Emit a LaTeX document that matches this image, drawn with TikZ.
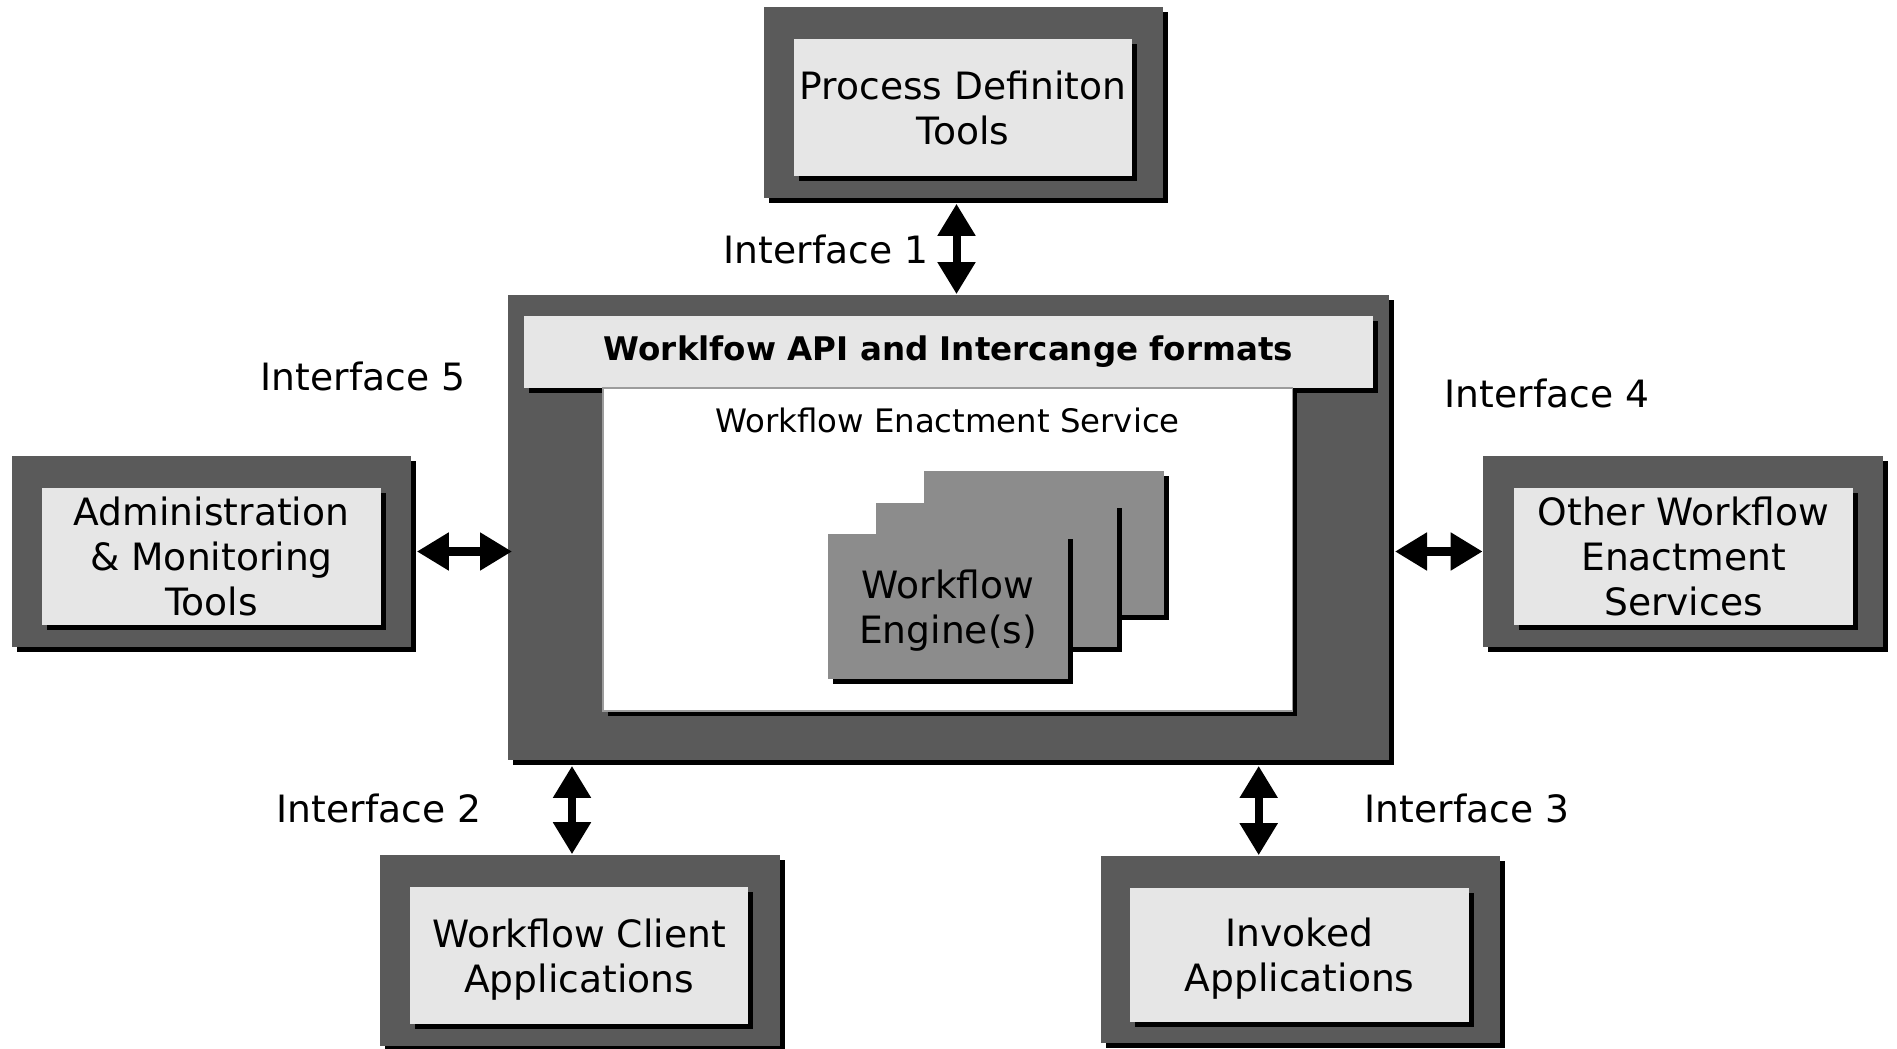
\documentclass[tikz,border=0pt]{standalone}
\usepackage{fontspec}
\setmainfont{DejaVu Sans}
\usetikzlibrary{positioning,arrows.meta,shadows}
\definecolor{boxdark}{HTML}{5A5A5A}
\definecolor{boxlight}{HTML}{E6E6E6}
\definecolor{enginegray}{HTML}{8C8C8C}
\newcommand{\nodepth}[1]{\raisebox{0pt}[\height][0pt]{#1}}
\tikzset{
	>={Triangle[length=0.32cm,width=0.36cm]}
}

\begin{document}
\begin{tikzpicture}[
x = 0.01cm, y = -0.01cm,
every node/.style = {
	font = \fontsize{10.7}{12.8}\selectfont,
	inner sep = 0pt
},
hardshadow/.style = {
	drop shadow = {shadow xshift = 0.05cm, shadow yshift = -0.05cm, fill = black, opacity = 1}
},
frame/.style = {
	hardshadow,
	fill = boxdark,
	minimum width = 3.99cm,
	minimum height = 1.91cm
},
tool/.style = {
	hardshadow,
	fill = boxlight,
	align = center,
	minimum width = 3.38cm,
	minimum height = 1.37cm
},
engine/.style = {
	hardshadow,
	fill = enginegray,
	align = center,
	minimum width = 2.40cm,
	minimum height = 1.44cm
},
iface/.style = {
	font = \fontsize{10.7}{12.8}\selectfont
},
link/.style = {
	<->,
	line width = 0.08cm
}
]
\useasboundingbox (0,0) rectangle (1897,1049);

% process definition tools
\node (pdt_frame) [frame] at (963.5,102.5) {};
\node (pdt) [tool] at (963,107.5) {Process Definiton\\Tools};

% enactment service
\node (main) [frame, minimum width = 8.81cm, minimum height = 4.65cm] at (948.5,527.5) {};
\node (api) [tool, minimum width = 8.49cm, minimum height = 0.72cm,
	font = \fontsize{9.25}{11}\selectfont\bfseries] at (948.5,352) {Worklfow API and Intercange formats};
\node (enact) [hardshadow, fill = white, draw = boxdark!60, line width = 0.4pt,
	minimum width = 6.89cm, minimum height = 3.23cm] at (947.5,549.5) {};
\node [below = 0.2cm of enact.north, font = \fontsize{9.2}{11}\selectfont] {Workflow Enactment Service};
\node (engine_3) [engine] at (1044,543) {};
\node (engine_2) [engine] at (996.5,575) {};
\node (engine_1) [engine] at (948,606.5) {Workflow\\\nodepth{Engine(s)}};

% side tools
\node (admin_frame) [frame] at (211.5,551.5) {};
\node (admin) [tool] at (211.5,556.5) {Administration\\\& Monitoring\\Tools};
\node (other_frame) [frame] at (1683,551.5) {};
\node (other) [tool] at (1683.5,556.5) {Other Workflow\\Enactment\\Services};

% bottom tools
\node (client_frame) [frame] at (580,950.5) {};
\node (client) [tool] at (579,955.5) {Workflow Client\\\nodepth{Applications}};
\node (invoked_frame) [frame, minimum height = 1.87cm] at (1300.5,949.5) {};
\node (invoked) [tool, minimum height = 1.34cm] at (1299.5,955) {Invoked\\\nodepth{Applications}};

% interfaces
\draw [link] ([xshift=-0.07cm, yshift=-0.05cm]pdt_frame.south) -- ([xshift=-0.07cm]pdt_frame.south |- main.north);
\draw [link] ([xshift=0.05cm]admin_frame.east) -- ([xshift=0.05cm]admin_frame.east -| main.west);
\draw [link] ([xshift=0.05cm]main.east |- other_frame.west) -- (other_frame.west);
\draw [link] ([xshift=-0.08cm, yshift=-0.05cm]client_frame.north |- main.south) -- ([xshift=-0.08cm]client_frame.north);
\draw [link] ([xshift=3.1cm, yshift=-0.05cm]main.south) -- ([xshift=3.1cm]main.south |- invoked_frame.north);

\node [iface] at (826,249) {Interface 1};
\node [iface] at (363,376) {Interface 5};
\node [iface] at (1547,393) {Interface 4};
\node [iface] at (379,808) {Interface 2};
\node [iface] at (1467,808) {Interface 3};

\end{tikzpicture}
\end{document}
